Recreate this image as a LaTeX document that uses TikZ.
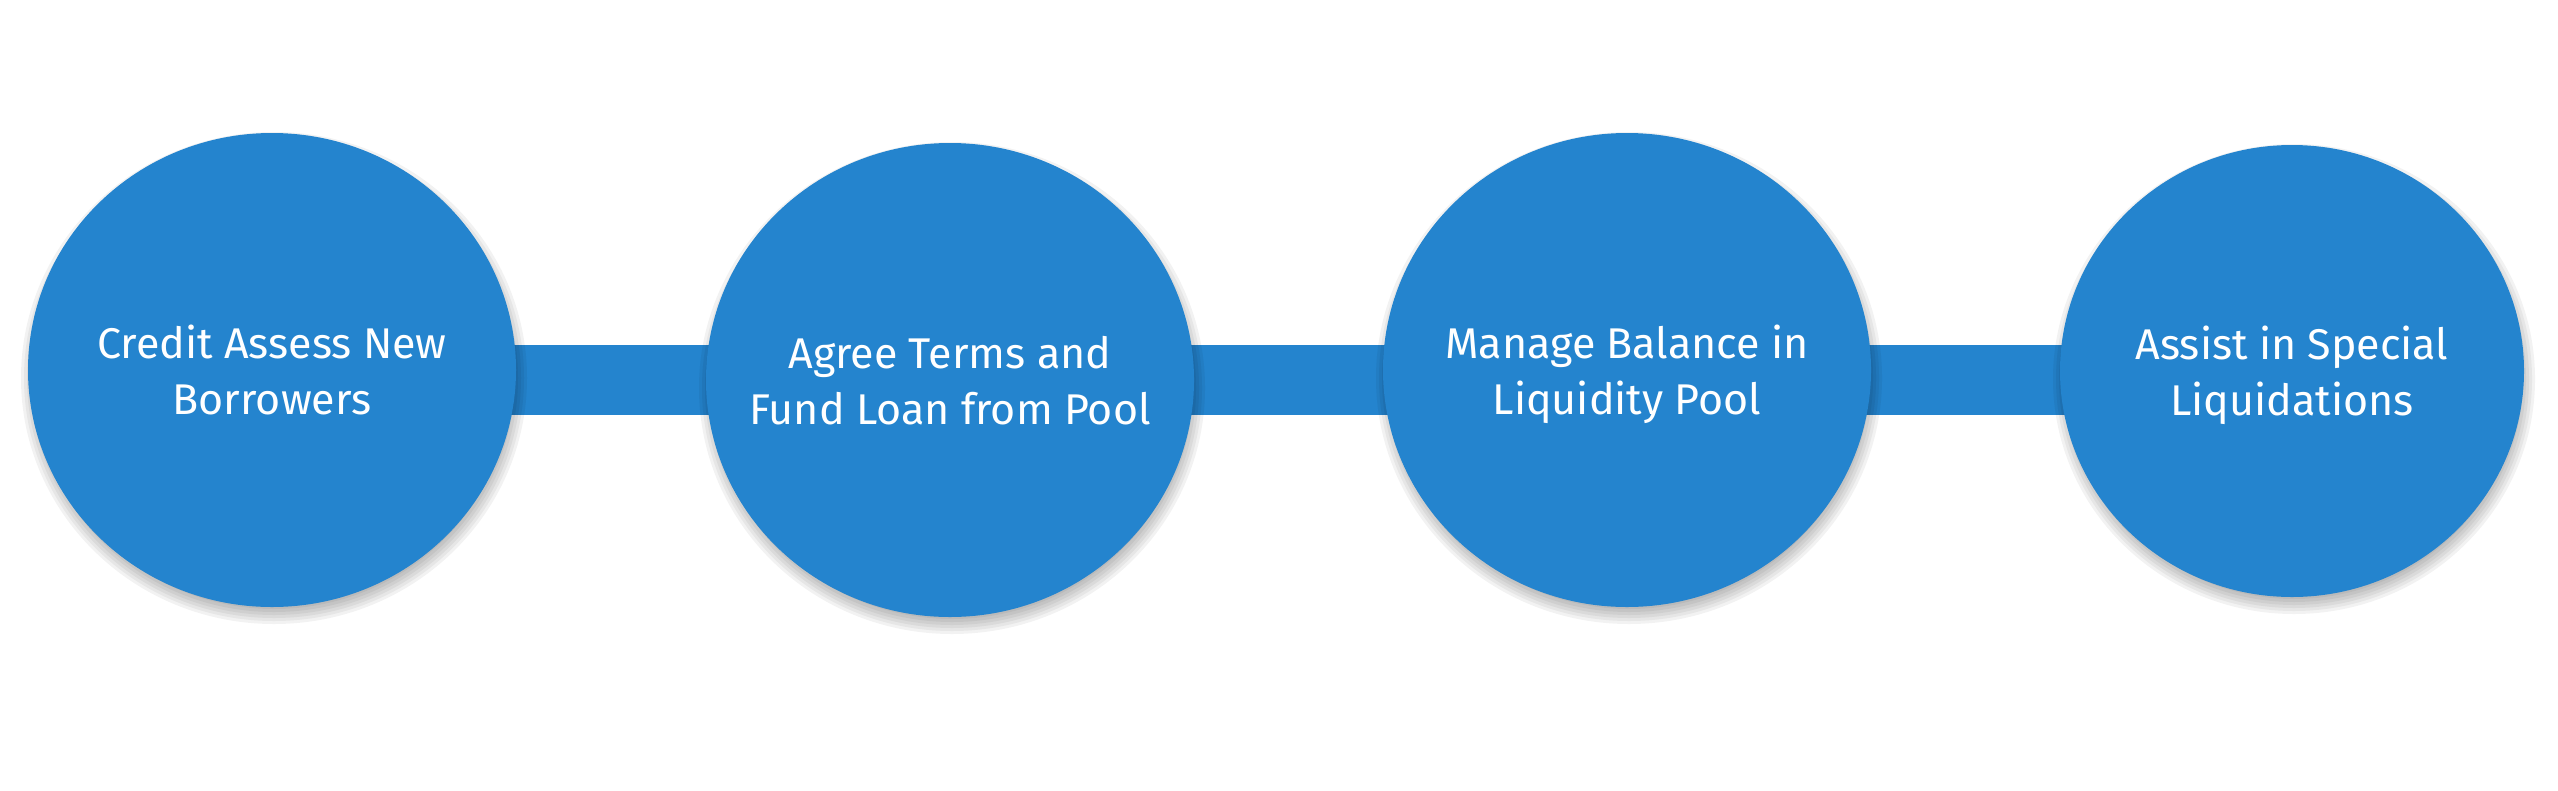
\documentclass[tikz,border=0pt]{standalone}
\usepackage{fontspec}
\setmainfont{Fira Sans}
\usetikzlibrary{shapes.geometric}
\definecolor{cblue}{HTML}{2484CE}
\pgfdeclarelayer{barlayer}
\pgfdeclarelayer{shadowlayer}
\pgfsetlayers{barlayer,shadowlayer,main}
\begin{document}
\begin{tikzpicture}[x=1pt,y=-1pt,
  stepcirc/.style={ellipse, fill=cblue, inner xsep=-160pt, inner ysep=-45pt, text=white, align=center,
    text depth=0pt, font=\fontsize{43}{56}\selectfont},
  bigcirc/.style={stepcirc, minimum width=488pt, minimum height=474pt},
  smallcirc/.style={stepcirc, minimum width=464pt, minimum height=452pt},
  barline/.style={draw=cblue, line width=70pt}]
\useasboundingbox (0,0) rectangle (2558,790);
\node[bigcirc] (n1) at (272,370) {Credit Assess New\\Borrowers};
\node[bigcirc] (n2) at (950,380) {Agree Terms and\\Fund Loan from Pool};
\node[bigcirc] (n3) at (1627,370) {Manage Balance in\\Liquidity Pool};
\node[smallcirc] (n4) at (2292,371) {Assist in Special\\Liquidations};
\begin{pgfonlayer}{barlayer}
  \draw[barline] (n1.center |- n2.center) -- (n2.center);
  \draw[barline] (n2.center) -- (n3.center |- n2.center);
  \draw[barline] (n3.center |- n2.center) -- (n4.center |- n2.center);
\end{pgfonlayer}
\begin{pgfonlayer}{shadowlayer}
  \foreach \n/\rx/\ry in {n1/244/237, n2/244/237, n3/244/237, n4/232/226} {
    \foreach \k in {-6,-3,...,9} {
      \fill[black, opacity=0.05] ([shift={(2,8)}]\n.center) ellipse [x radius=\rx+\k, y radius=\ry+\k];
    }
  }
\end{pgfonlayer}
\end{tikzpicture}
\end{document}
